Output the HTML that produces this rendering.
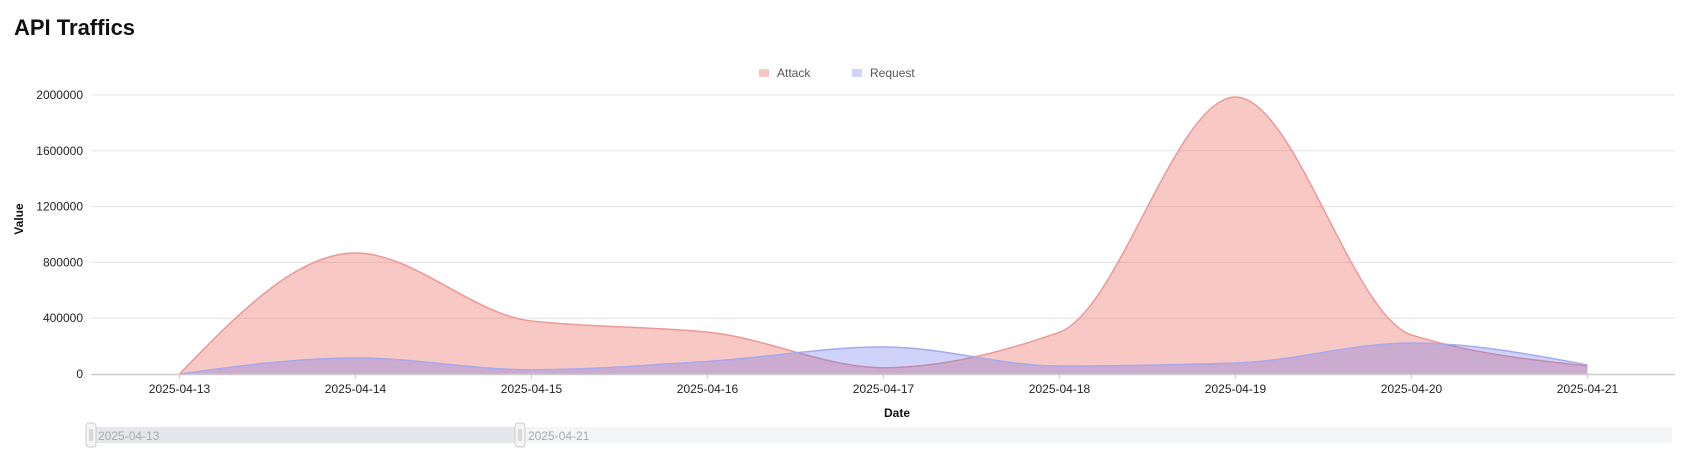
<!DOCTYPE html>
<html><head><meta charset="utf-8"><style>
body{margin:0;background:#fff;width:1690px;height:459px;overflow:hidden;font-family:"Liberation Sans",sans-serif}
</style></head><body>
<svg id="s" width="1690" height="459" xmlns="http://www.w3.org/2000/svg" font-family="Liberation Sans, sans-serif">
<text x="14" y="35" font-size="22" font-weight="bold" fill="#111">API Traffics</text>
<rect x="759" y="69" width="10" height="8" fill="#f6c6c3"/>
<text x="777" y="77" font-size="12" fill="#555">Attack</text>
<rect x="852" y="69" width="10" height="8" fill="#d2d4f6"/>
<text x="870" y="77" font-size="12" fill="#555">Request</text>
<g id="grid"></g>
<g id="areas"></g>
<line x1="91" y1="374.5" x2="1675" y2="374.5" stroke="#ccc" stroke-width="1.5"/>
<g id="xt"></g>
<text x="23" y="219" font-size="12" font-weight="bold" fill="#111" text-anchor="middle" transform="rotate(-90 23 219)">Value</text>
<text x="897" y="417" font-size="12" font-weight="bold" fill="#111" text-anchor="middle">Date</text>
<rect x="91" y="427" width="1581" height="16" fill="#f4f5f7"/>
<rect x="91" y="427" width="429" height="16" fill="#e6e7ea"/>
<rect x="86" y="423" width="10" height="24" rx="3" fill="#f5f5f5" stroke="#ccc"/>
<line x1="90" y1="429" x2="90" y2="441" stroke="#bbb"/><line x1="92" y1="429" x2="92" y2="441" stroke="#bbb"/>
<rect x="515" y="423" width="10" height="24" rx="3" fill="#f5f5f5" stroke="#ccc"/>
<line x1="519" y1="429" x2="519" y2="441" stroke="#bbb"/><line x1="521" y1="429" x2="521" y2="441" stroke="#bbb"/>
<text x="98" y="440" font-size="12" fill="#aaa">2025-04-13</text>
<text x="528" y="440" font-size="12" fill="#aaa">2025-04-21</text>
</svg>
<script>
var NS="http://www.w3.org/2000/svg";
function el(t,a,p,txt){var e=document.createElementNS(NS,t);for(var k in a)e.setAttribute(k,a[k]);if(txt)e.textContent=txt;document.getElementById(p).appendChild(e);}
var y0=374,per=279/2000000;
function Y(v){return y0-v*per;}
for(var i=0;i<=5;i++){var v=i*400000,y=Y(v);
 if(i>0)el("line",{x1:91,y1:y,x2:1675,y2:y,stroke:"#e3e3e3","stroke-width":1},"grid");
 el("text",{x:83,y:y+4,"font-size":12,fill:"#222","text-anchor":"end"},"grid",String(v));}
var X=[];for(var i=0;i<9;i++){X.push(179.5+176*i);}
for(var i=0;i<9;i++){el("line",{x1:X[i],y1:374,x2:X[i],y2:379,stroke:"#ccc"},"xt");
 el("text",{x:X[i],y:393,"font-size":12,fill:"#222","text-anchor":"middle"},"xt","2025-04-"+(13+i));}
var A=[0,867000,380000,300000,45000,300000,1986000,280000,57000];
var R=[0,115000,30000,90000,194000,57000,79000,222000,65000];
function path(d){var p=d.map(function(v,i){return[X[i],Y(v)]});var n=p.length,h=176;
 var s=[],m=[];for(var i=0;i<n-1;i++)s.push((p[i+1][1]-p[i][1])/h);
 for(var i=0;i<n;i++){if(i==0)m.push(s[0]);else if(i==n-1)m.push(s[n-2]);
  else{var a=s[i-1],b=s[i];m.push(a*b<=0?0:2*a*b/(a+b));}}
 m[0]=(3*s[0]-m[1])/2;m[n-1]=(3*s[n-2]-m[n-2])/2;
 var r="M"+p[0][0]+","+p[0][1];
 for(var i=0;i<n-1;i++){var d3=h/3;
  r+=" C"+(p[i][0]+d3)+","+Math.min(y0,p[i][1]+m[i]*d3)+" "+(p[i+1][0]-d3)+","+Math.min(y0,p[i+1][1]-m[i+1]*d3)+" "+p[i+1][0]+","+p[i+1][1];}
 return r;}
function area(d,f,st){var l=path(d);el("path",{d:l+" L"+X[8]+","+y0+" L"+X[0]+","+y0+"Z",fill:f},"areas");
 el("path",{d:l,fill:"none",stroke:st,"stroke-width":1.5},"areas");}
area(A,"rgba(236,110,100,0.38)","#eb9a98");
area(R,"rgba(100,110,235,0.3)","#a6a9ee");
</script>
</body></html>
